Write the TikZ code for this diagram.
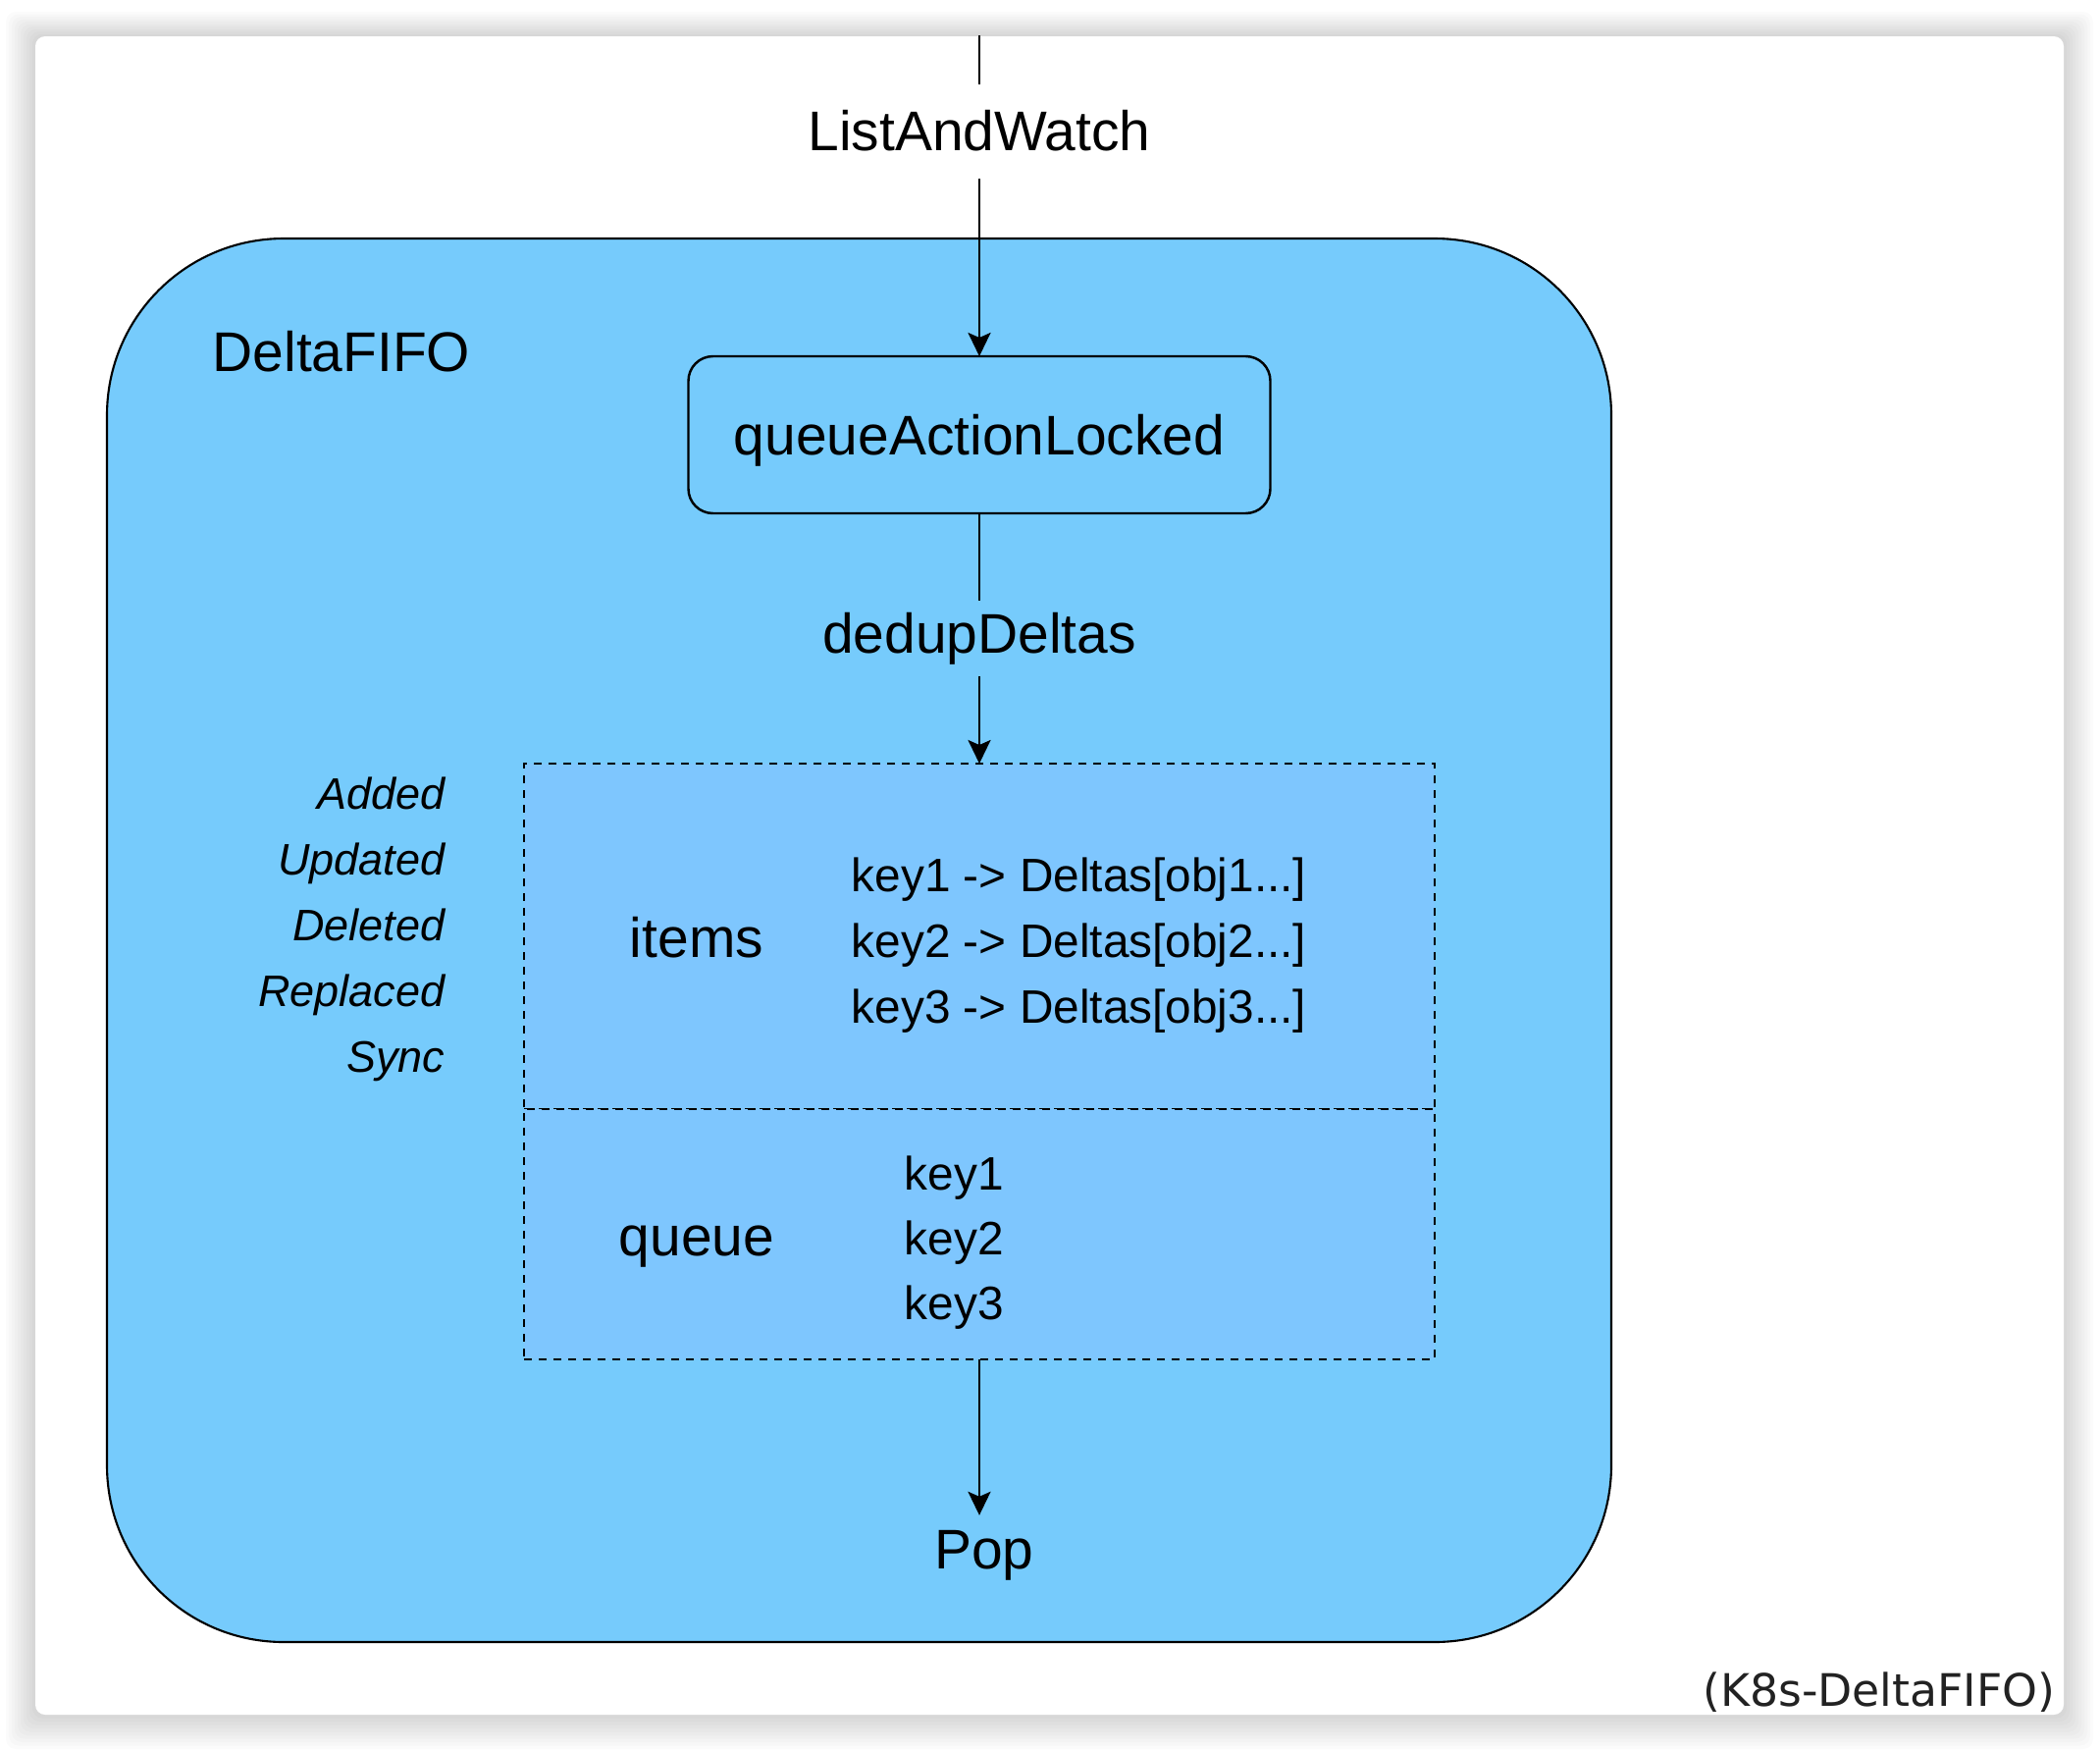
\documentclass[tikz,border=0pt]{standalone}
\usepackage{fontspec}
\setmainfont{Liberation Sans}
\newfontfamily\capfont{DejaVu Sans}
\usetikzlibrary{arrows.meta,positioning}
\definecolor{fifoblue}{HTML}{76CBFC}
\definecolor{partblue}{HTML}{7EC6FE}
\definecolor{capgray}{HTML}{222222}

\begin{document}
\begin{tikzpicture}[
  x=0.1mm, y=-0.1mm,
  font=\fontsize{16.2}{19}\selectfont,
  frame/.style={rectangle,draw,fill=fifoblue,rounded corners=18mm,line width=0.6pt,
                inner sep=0pt,outer sep=0pt,minimum width=153.3mm,minimum height=143mm},
  action/.style={rectangle,draw,fill=fifoblue,rounded corners=2.5mm,line width=0.7pt,
                inner sep=0pt,outer sep=0pt,minimum width=59.3mm,minimum height=16mm,text depth=0pt},
  part/.style={rectangle,draw,dash pattern=on 0.8mm off 0.7mm,fill=partblue,line width=0.75pt,
                inner sep=0pt,outer sep=0pt,minimum width=92.8mm},
  keytxt/.style={font=\fontsize{13.6}{16}\selectfont,inner sep=0pt,anchor=base west},
  evt/.style={font=\fontsize{12.8}{15}\selectfont\itshape,inner sep=0pt,anchor=base east},
  arr/.style={-{Stealth[length=2.4mm,width=2.3mm,inset=0.5mm]},line width=0.8pt}
]
\useasboundingbox (0,0) rectangle (2140,1782);
\fill[white] (0,0) rectangle (2140,1782);
% card shadow
\foreach \s in {1,...,10}
  \fill[black,opacity=0.016,rounded corners=1mm] (36-3*\s,37-2.5*\s) rectangle (2103+3*\s,1747+3.5*\s);
\node[fill=white,rounded corners=1mm,inner sep=0pt,minimum width=206.7mm,minimum height=171mm] (card) at (1069.5,892) {};

\node[frame] (fifo) at (875.5,958) {};
\node[anchor=base west,inner sep=0pt] (title) at (216,378) {DeltaFIFO};
\node[action] (qal) at (998,443) {queueActionLocked};
\node[part,minimum height=35.2mm] (items) at (998,954) {};
\node[part,minimum height=25.5mm,below=0pt of items] (queue) {};

\node (itemslbl) at (710,955) {items};
\node (queuelbl) at (710,1270) {queue};
\foreach \k in {1,2,3}
  \node[keytxt] (map\k) at (867,841+67*\k) {key\k{} -> Deltas[obj\k...]};
\foreach \k in {1,2,3}
  \node[keytxt] (qkey\k) at (921,1146+66*\k) {key\k};
\foreach \ev [count=\i] in {Added,Updated,Deleted,Replaced,Sync}
  \node[evt] (ev\i) at (454,757+67*\i) {\ev};

\node[inner sep=1.5mm] (pop) at (1003,1585) {Pop};

\draw[arr] (qal.north |- card.north) -- node[pos=0.2975,fill=white,minimum height=9.6mm,inner xsep=1mm] (law) {ListAndWatch} (qal.north);
\draw[arr] (qal.south) -- node[fill=fifoblue,minimum height=7.5mm,inner xsep=1mm] (dedup) {dedupDeltas} (items.north);
\draw[arr] (queue.south) -- (queue.south |- pop.north);

\node[font=\capfont\fontsize{13}{15}\selectfont,text=capgray,anchor=base east,inner sep=0pt] (cap) at (2095,1738) {(K8s-DeltaFIFO)};
\end{tikzpicture}
\end{document}
